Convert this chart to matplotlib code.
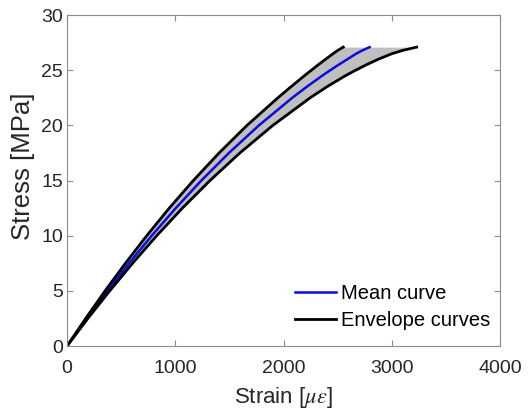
import matplotlib

matplotlib.use("Agg")
import matplotlib.pyplot as plt

plt.rcParams["font.family"] = ["Liberation Sans", "DejaVu Sans"]
plt.rcParams["mathtext.fontset"] = "stix"

# stress levels [MPa] shared by all three curves
stress = [0, 2.5, 5, 7.5, 10, 12.5, 15, 17.5, 20, 22.5, 23.5, 24.5, 25, 25.5, 26, 26.5, 26.8, 27.1]
# strain [micro-strain]
strain_mean = [0, 183, 373, 572, 782, 1004, 1240, 1495, 1772, 2080, 2214, 2356, 2431, 2508, 2590, 2670, 2728, 2795]
strain_upper = [0, 172, 351, 539, 736, 944, 1166, 1404, 1662, 1947, 2068, 2192, 2256, 2321, 2388, 2457, 2500, 2552]
strain_lower = [0, 192, 394, 605, 828, 1065, 1320, 1596, 1901, 2245, 2400, 2570, 2665, 2765, 2875, 3000, 3100, 3230]

AX_GRAY = "#8c8c8c"
TXT = "#262626"

fig = plt.figure(figsize=(5.28, 4.09), dpi=100)
ax = fig.add_axes([0.127, 0.154, 0.820, 0.809])

ax.fill_betweenx(stress, strain_upper, strain_lower, color="#bfbfbf", lw=0)
ax.plot(strain_mean, stress, color="#0a0adc", lw=1.8, label="Mean curve")
ax.plot(strain_upper, stress, color="black", lw=2.0, label="Envelope curves")
ax.plot(strain_lower, stress, color="black", lw=2.0)

ax.set_xlim(0, 4000)
ax.set_ylim(0, 30)
ax.set_xticks([0, 1000, 2000, 3000, 4000])
ax.set_yticks([0, 5, 10, 15, 20, 25, 30])
ax.tick_params(direction="in", top=True, right=True, length=4, width=0.8,
               color=AX_GRAY, labelcolor=TXT, labelsize=14)
ax.tick_params(axis="x", pad=10)
ax.tick_params(axis="y", pad=3)
for s in ax.spines.values():
    s.set_color(AX_GRAY)
    s.set_linewidth(0.8)

ax.set_xlabel(r"Strain [$\mu\varepsilon$]", fontsize=16, color=TXT, labelpad=6)
ax.set_ylabel("Stress [MPa]", fontsize=18.5, color=TXT)
ax.yaxis.set_label_coords(-0.074, 0.544)

ax.legend(loc="lower right", bbox_to_anchor=(1.014, 0.0), frameon=False, fontsize=14.5,
          handlelength=2.0, handletextpad=0.25, labelspacing=0.4, borderaxespad=0.4)

fig.savefig("out.png", dpi=100)
